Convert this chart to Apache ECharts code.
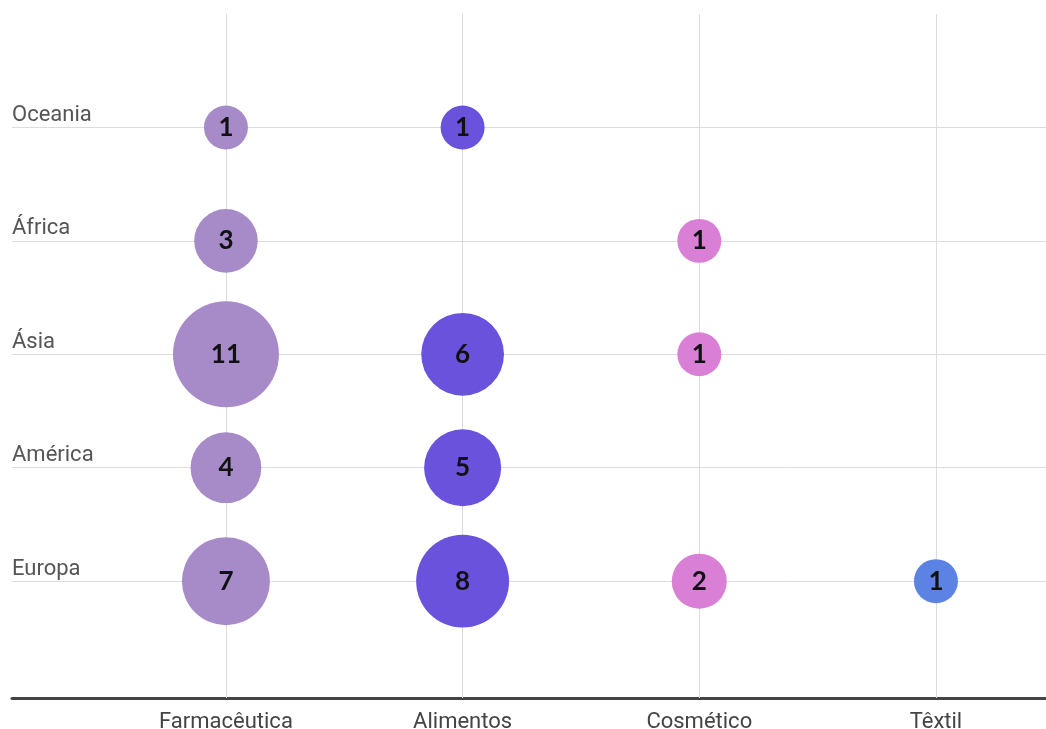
<!DOCTYPE html>
<html>
<head>
<meta charset="utf-8">
<style>
  html, body { margin: 0; padding: 0; background: #fff; }
  #chart { width: 1046px; height: 729px; }
</style>
<script src="https://cdn.jsdelivr.net/npm/echarts@6/dist/echarts.min.js"></script>
</head>
<body>
<div id="chart"></div>
<script>
// Sectors along the horizontal axis
const categories = ['Farmacêutica', 'Alimentos', 'Cosmético', 'Têxtil'];
// Regions along the vertical axis, bottom to top
const regions = ['Europa', 'América', 'Ásia', 'África', 'Oceania'];
// Counts per region (same order as regions); null = no bubble
const farmaceutica = [7, 4, 11, 3, 1];
const alimentos = [8, 5, 6, null, 1];
const cosmetico = [2, null, 1, 1, null];
const textil = [1, null, null, null, null];

const seriesValues = [farmaceutica, alimentos, cosmetico, textil];
const colors = ['#a78bc8', '#6a52dc', '#d97fd6', '#5c82e3'];

const X_MIN = -0.904, X_MAX = 3.465;
const Y_MIN = -0.03, Y_MAX = 6.0;

function bubbleSize(v) {
  return 17.2 + 26.76 * Math.sqrt(v);
}

const gridLineStyle = { color: '#dcdcdc', width: 1, type: 'solid' };
const labelFont = 'Roboto, "DejaVu Sans", sans-serif';

// Background lines plus axis texts
const gridSeries = {
  type: 'scatter',
  data: [],
  silent: true,
  z: 1,
  markLine: {
    silent: true,
    symbol: 'none',
    animation: false,
    z: 1,
    lineStyle: gridLineStyle,
    data: [
      ...regions.map((r, i) => ({
        yAxis: i + 1,
        label: {
          show: true,
          position: 'insideStartTop',
          formatter: r,
          color: '#555',
          fontSize: 22,
          fontFamily: labelFont,
          distance: [0, 1]
        }
      })),
      ...categories.map((c, i) => ({
        xAxis: i,
        label: {
          show: true,
          position: 'start',
          formatter: c,
          color: '#444',
          fontSize: 22,
          fontFamily: labelFont,
          distance: 13
        }
      }))
    ]
  }
};

const bubbleSeries = categories.map((c, ci) => ({
  name: c,
  type: 'scatter',
  z: 3,
  itemStyle: { color: colors[ci], opacity: 1 },
  symbolSize: d => bubbleSize(d[2]),
  label: {
    show: true,
    position: 'inside',
    formatter: p => p.value[2],
    color: '#111',
    fontSize: 26,
    fontWeight: 'bold',
    fontFamily: 'Lato, "DejaVu Sans", sans-serif'
  },
  emphasis: { disabled: true },
  data: seriesValues[ci]
    .map((v, ri) => (v == null ? null : [ci, ri + 1, v]))
    .filter(d => d !== null)
}));

const chart = echarts.init(document.getElementById('chart'));
chart.setOption({
  animation: false,
  grid: { left: 12, right: 0, top: 14, bottom: 31 },
  xAxis: {
    type: 'value',
    min: X_MIN,
    max: X_MAX,
    axisLine: { show: true, onZero: false, lineStyle: { color: '#444', width: 3 } },
    axisTick: { show: false },
    axisLabel: { show: false },
    splitLine: { show: false }
  },
  yAxis: {
    type: 'value',
    min: Y_MIN,
    max: Y_MAX,
    axisLine: { show: false },
    axisTick: { show: false },
    axisLabel: { show: false },
    splitLine: { show: false }
  },
  series: [gridSeries, ...bubbleSeries]
});
</script>
</body>
</html>
